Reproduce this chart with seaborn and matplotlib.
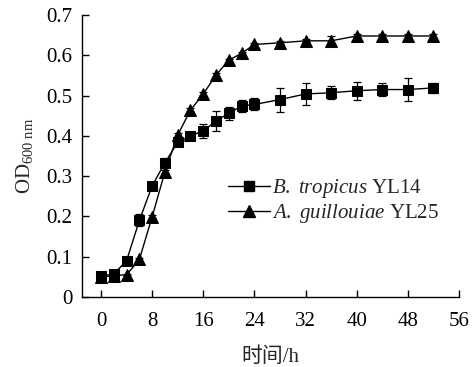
import numpy as np
import pandas as pd
import matplotlib
matplotlib.use("Agg")
import matplotlib.pyplot as plt
import seaborn as sns
from matplotlib.lines import Line2D

time_h = [0, 2, 4, 6, 8, 10, 12, 14, 16, 18, 20, 22, 24, 28, 32, 36, 40, 44, 48, 52]
bt_od = [0.052, 0.057, 0.090, 0.190, 0.276, 0.333, 0.384, 0.400, 0.412, 0.437, 0.456,
         0.474, 0.478, 0.490, 0.504, 0.507, 0.512, 0.515, 0.515, 0.519]
bt_err = [0.004, 0.004, 0.005, 0.015, 0.006, 0.012, 0.006, 0.006, 0.018, 0.024, 0.016,
          0.014, 0.015, 0.030, 0.028, 0.016, 0.022, 0.015, 0.028, 0.012]
ag_od = [0.049, 0.053, 0.055, 0.093, 0.199, 0.311, 0.402, 0.464, 0.504, 0.551, 0.588,
         0.605, 0.627, 0.631, 0.636, 0.636, 0.648, 0.648, 0.648, 0.648]
ag_err = [0.003, 0.003, 0.003, 0.004, 0.004, 0.004, 0.005, 0.004, 0.004, 0.004, 0.004,
          0.004, 0.004, 0.004, 0.004, 0.013, 0.004, 0.004, 0.004, 0.004]
series_names = ["B. tropicus YL14", "A. guillouiae YL25"]
x_ticks = [0, 8, 16, 24, 32, 40, 48, 56]
y_ticks = [0, 0.1, 0.2, 0.3, 0.4, 0.5, 0.6, 0.7]

df = pd.DataFrame({
    "time": time_h * 2,
    "od": bt_od + ag_od,
    "err": bt_err + ag_err,
    "strain": [series_names[0]] * len(time_h) + [series_names[1]] * len(time_h),
})

sns.set_theme(style="ticks")
plt.rcParams["font.family"] = ["Liberation Serif", "Noto Sans CJK SC", "DejaVu Sans"]
plt.rcParams["mathtext.fontset"] = "custom"
plt.rcParams["mathtext.rm"] = "Liberation Serif"
plt.rcParams["mathtext.it"] = "Liberation Serif:italic"

FS = 15
fig = plt.figure(figsize=(4.76, 3.67), dpi=100)
ax = fig.add_axes([0.172, 0.191, 0.792, 0.768])

for name, mk, ms in [(series_names[0], "s", 6.5), (series_names[1], "^", 8.0)]:
    sub = df[df["strain"] == name]
    sns.lineplot(data=sub, x="time", y="od", color="black", marker=mk,
                 markersize=ms, markeredgecolor="black", linewidth=1.0,
                 legend=False, ax=ax, zorder=3)
    ax.errorbar(sub["time"], sub["od"], yerr=sub["err"], fmt="none",
                ecolor="black", elinewidth=0.9, capsize=3, capthick=0.9, zorder=2)

ax.set_xlim(-3, 56)
ax.set_ylim(0, 0.7)
ax.set_xticks(x_ticks)
ax.set_yticks(y_ticks)
ax.set_yticklabels(["0" if v == 0 else f"{v:.1f}" for v in y_ticks])
ax.tick_params(direction="in", length=5, width=1, labelsize=FS, colors="black")
ax.tick_params(axis="y", pad=7)
ax.tick_params(axis="x", pad=11)
for s in ["top", "right"]:
    ax.spines[s].set_visible(False)
for s in ["left", "bottom"]:
    ax.spines[s].set_linewidth(1.0)
    ax.spines[s].set_color("black")

ax.set_xlabel("时间/h", fontsize=FS, labelpad=12)
ax.set_ylabel(r"OD$_{\mathrm{600\ nm}}$", fontsize=FS, labelpad=8)

handles = [
    Line2D([0], [0], color="black", marker="s", markersize=6.5, linewidth=1.0),
    Line2D([0], [0], color="black", marker="^", markersize=8.0, linewidth=1.0),
]
labels = [r"$\it{B.\ tropicus}$ YL14", r"$\it{A.\ guillouiae}$ YL25"]
ax.legend(handles, labels, loc="center left", bbox_to_anchor=(0.388, 0.34),
          frameon=False, fontsize=FS, handlelength=2.0, handletextpad=0.1,
          labelspacing=0.1, borderpad=0.0, borderaxespad=0.0)

fig.savefig("out.png", dpi=100)
